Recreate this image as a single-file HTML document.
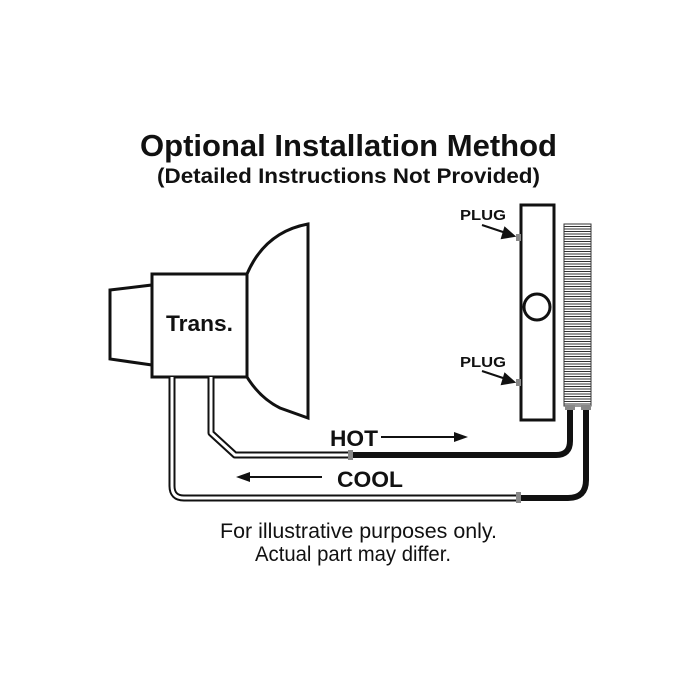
<!DOCTYPE html>
<html><head><style>body{margin:0;background:#fff}svg{display:block}</style></head><body>
<svg width="700" height="700" viewBox="0 0 700 700" xmlns="http://www.w3.org/2000/svg" font-family="Liberation Sans, Arial, sans-serif">
<rect width="700" height="700" fill="#fff"/>
<text x="140" y="156" font-size="31" font-weight="bold" textLength="417" lengthAdjust="spacingAndGlyphs" fill="#111">Optional Installation Method</text>
<text x="157" y="183" font-size="21" font-weight="bold" textLength="383" lengthAdjust="spacingAndGlyphs" fill="#111">(Detailed Instructions Not Provided)</text>
<g fill="none" stroke="#111" stroke-width="3">
<polygon points="110,290 152,285 152,365 110,359" fill="#fff"/>
<path d="M247,274 Q265,232 308,224 L308,418 L280,408 Q260,398 247,377" fill="#fff"/>
<rect x="152" y="274" width="95" height="103" fill="#fff"/>
<rect x="521" y="205" width="33" height="215"/>
<circle cx="537" cy="307" r="13"/>
</g>
<text x="166" y="331" font-size="22" font-weight="bold" textLength="67" lengthAdjust="spacingAndGlyphs" fill="#111">Trans.</text>
<rect x="564" y="224" width="27" height="182" fill="#fff" stroke="#333" stroke-width="1"/>
<g stroke="#333" stroke-width="1">
<path d="M564,226.5H591M564,229H591M564,231.5H591M564,234H591M564,236.5H591M564,239H591M564,241.5H591M564,244H591M564,246.5H591M564,249H591M564,251.5H591M564,254H591M564,256.5H591M564,259H591M564,261.5H591M564,264H591M564,266.5H591M564,269H591M564,271.5H591M564,274H591M564,276.5H591M564,279H591M564,281.5H591M564,284H591M564,286.5H591M564,289H591M564,291.5H591M564,294H591M564,296.5H591M564,299H591M564,301.5H591M564,304H591M564,306.5H591M564,309H591M564,311.5H591M564,314H591M564,316.5H591M564,319H591M564,321.5H591M564,324H591M564,326.5H591M564,329H591M564,331.5H591M564,334H591M564,336.5H591M564,339H591M564,341.5H591M564,344H591M564,346.5H591M564,349H591M564,351.5H591M564,354H591M564,356.5H591M564,359H591M564,361.5H591M564,364H591M564,366.5H591M564,369H591M564,371.5H591M564,374H591M564,376.5H591M564,379H591M564,381.5H591M564,384H591M564,386.5H591M564,389H591M564,391.5H591M564,394H591M564,396.5H591M564,399H591M564,401.5H591M564,404H591"/>
</g>
<g fill="none" stroke-linejoin="round">
<path d="M211,377 L211,433 L235,455 L351,455" stroke="#111" stroke-width="7"/>
<path d="M211,377 L211,433 L235,455 L351,455" stroke="#fff" stroke-width="3"/>
<path d="M172,377 L172,486 Q172,498 184,498 L519,498" stroke="#111" stroke-width="7"/>
<path d="M172,377 L172,486 Q172,498 184,498 L519,498" stroke="#fff" stroke-width="3"/>
<path d="M351,455 L556,455 Q570,455 570,441 L570,408" stroke="#111" stroke-width="6"/>
<path d="M519,498 L568,498 Q586,498 586,480 L586,408" stroke="#111" stroke-width="6"/>
</g>
<g fill="#888">
<rect x="348" y="450" width="5" height="10"/>
<rect x="516" y="492" width="5" height="11"/>
<rect x="565" y="405" width="10" height="5"/>
<rect x="581" y="405" width="10" height="5"/>
<rect x="516" y="234" width="5" height="7"/>
<rect x="516" y="379" width="5" height="7"/>
</g>
<g font-size="15" font-weight="bold" fill="#111">
<text x="460" y="220" textLength="46" lengthAdjust="spacingAndGlyphs">PLUG</text>
<text x="460" y="367" textLength="46" lengthAdjust="spacingAndGlyphs">PLUG</text>
</g>
<g stroke="#111" stroke-width="2" fill="#111">
<line x1="482" y1="225" x2="506" y2="233"/><polygon points="514,236 502,238 505,228"/>
<line x1="482" y1="371" x2="506" y2="379"/><polygon points="514,382 502,384 505,374"/>
<line x1="381" y1="437" x2="458" y2="437"/><polygon points="468,437 454,432 454,442" stroke="none"/>
<line x1="246" y1="477" x2="322" y2="477"/><polygon points="236,477 250,472 250,482" stroke="none"/>
</g>
<text x="330" y="446" font-size="22" font-weight="bold" textLength="48" lengthAdjust="spacingAndGlyphs" fill="#111">HOT</text>
<text x="337" y="487" font-size="22" font-weight="bold" textLength="66" lengthAdjust="spacingAndGlyphs" fill="#111">COOL</text>
<text x="220" y="538" font-size="21" textLength="277" lengthAdjust="spacingAndGlyphs" fill="#111">For illustrative purposes only.</text>
<text x="255" y="561" font-size="21" textLength="196" lengthAdjust="spacingAndGlyphs" fill="#111">Actual part may differ.</text>
</svg>
</body></html>
